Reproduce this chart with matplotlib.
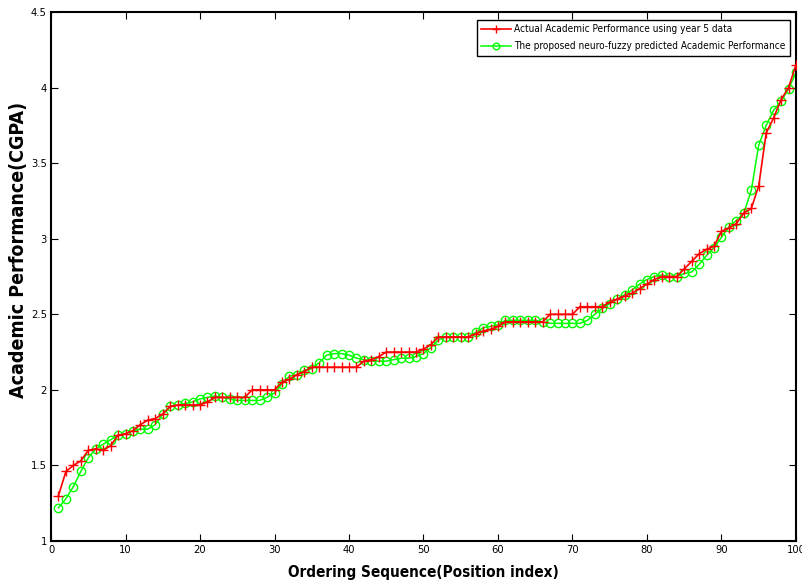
import matplotlib
matplotlib.use("Agg")
import matplotlib.pyplot as plt

x_index = list(range(1, 101))

actual_cgpa = [
    1.30, 1.46, 1.50, 1.53, 1.60, 1.61, 1.60, 1.63, 1.70, 1.71,
    1.73, 1.77, 1.80, 1.81, 1.84, 1.89, 1.90, 1.90, 1.90, 1.90,
    1.92, 1.95, 1.95, 1.95, 1.95, 1.95, 2.00, 2.00, 2.00, 2.00,
    2.05, 2.07, 2.10, 2.12, 2.15, 2.15, 2.15, 2.15, 2.15, 2.15,
    2.15, 2.19, 2.20, 2.22, 2.25, 2.25, 2.25, 2.25, 2.25, 2.27,
    2.30, 2.35, 2.35, 2.35, 2.35, 2.35, 2.37, 2.39, 2.40, 2.42,
    2.45, 2.45, 2.45, 2.45, 2.45, 2.45, 2.50, 2.50, 2.50, 2.50,
    2.55, 2.55, 2.55, 2.55, 2.58, 2.60, 2.62, 2.64, 2.67, 2.70,
    2.73, 2.75, 2.75, 2.75, 2.80, 2.85, 2.90, 2.93, 2.95, 3.05,
    3.07, 3.10, 3.17, 3.20, 3.35, 3.70, 3.80, 3.92, 4.00, 4.15,
]

predicted_cgpa = [
    1.22, 1.28, 1.36, 1.46, 1.55, 1.61, 1.64, 1.67, 1.70, 1.71,
    1.73, 1.74, 1.74, 1.77, 1.84, 1.89, 1.90, 1.91, 1.92, 1.94,
    1.95, 1.96, 1.95, 1.94, 1.93, 1.93, 1.93, 1.93, 1.95, 1.98,
    2.04, 2.09, 2.10, 2.13, 2.14, 2.18, 2.23, 2.24, 2.24, 2.23,
    2.21, 2.20, 2.19, 2.19, 2.19, 2.20, 2.21, 2.21, 2.22, 2.24,
    2.28, 2.33, 2.35, 2.35, 2.35, 2.35, 2.38, 2.41, 2.42, 2.43,
    2.46, 2.46, 2.46, 2.46, 2.46, 2.45, 2.44, 2.44, 2.44, 2.44,
    2.44, 2.46, 2.50, 2.54, 2.57, 2.60, 2.63, 2.66, 2.70, 2.73,
    2.75, 2.76, 2.75, 2.75, 2.77, 2.78, 2.83, 2.89, 2.94, 3.01,
    3.08, 3.12, 3.17, 3.32, 3.62, 3.75, 3.85, 3.91, 3.99, 4.10,
]

x_ticks = [0, 10, 20, 30, 40, 50, 60, 70, 80, 90, 100]
y_ticks = [1, 1.5, 2, 2.5, 3, 3.5, 4, 4.5]
y_tick_labels = ["1", "1.5", "2", "2.5", "3", "3.5", "4", "4.5"]

label_actual = "Actual Academic Performance using year 5 data"
label_pred = "The proposed neuro-fuzzy predicted Academic Performance"
x_title = "Ordering Sequence(Position index)"
y_title = "Academic Performance(CGPA)"

plt.rcParams["font.family"] = ["DejaVu Sans"]
plt.rcParams["font.stretch"] = "condensed"

fig = plt.figure(figsize=(8.02, 5.86), dpi=100)
ax = fig.add_axes([0.0636, 0.0768, 0.9289, 0.9027])

ax.plot(x_index, actual_cgpa, color="#ff0000", marker="+", markersize=7,
        markeredgewidth=1.0, linewidth=1.2, label=label_actual, zorder=3)
ax.plot(x_index, predicted_cgpa, color="#00ff00", marker="o", markersize=6,
        markerfacecolor="none", markeredgecolor="#00ff00", markeredgewidth=1.0,
        linewidth=1.1, label=label_pred, zorder=2)

ax.set_xlim(0, 100)
ax.set_ylim(1, 4.5)
ax.set_xticks(x_ticks)
ax.set_yticks(y_ticks)
ax.set_yticklabels(y_tick_labels)
ax.tick_params(direction="in", top=True, right=True, length=5, width=0.8,
               labelsize=8, pad=3, colors="black")
for s in ax.spines.values():
    s.set_linewidth(1.5)
    s.set_color("black")

ax.set_xlabel(x_title, fontsize=11, fontweight="bold", fontstretch="condensed")
ax.set_ylabel(y_title, fontsize=14, fontweight="bold", fontstretch="condensed")
ax.xaxis.set_label_coords(0.5, -0.045)
ax.yaxis.set_label_coords(-0.031, 0.55)

leg = ax.legend(loc="upper right", fontsize=7.2, frameon=True, fancybox=False,
                edgecolor="black", framealpha=1, borderpad=0.45,
                handlelength=3.0, handletextpad=0.3, labelspacing=0.7,
                bbox_to_anchor=(0.999, 0.995), markerscale=0.8)
leg.get_frame().set_linewidth(1.0)

fig.savefig("out.png", dpi=100, facecolor="white")
